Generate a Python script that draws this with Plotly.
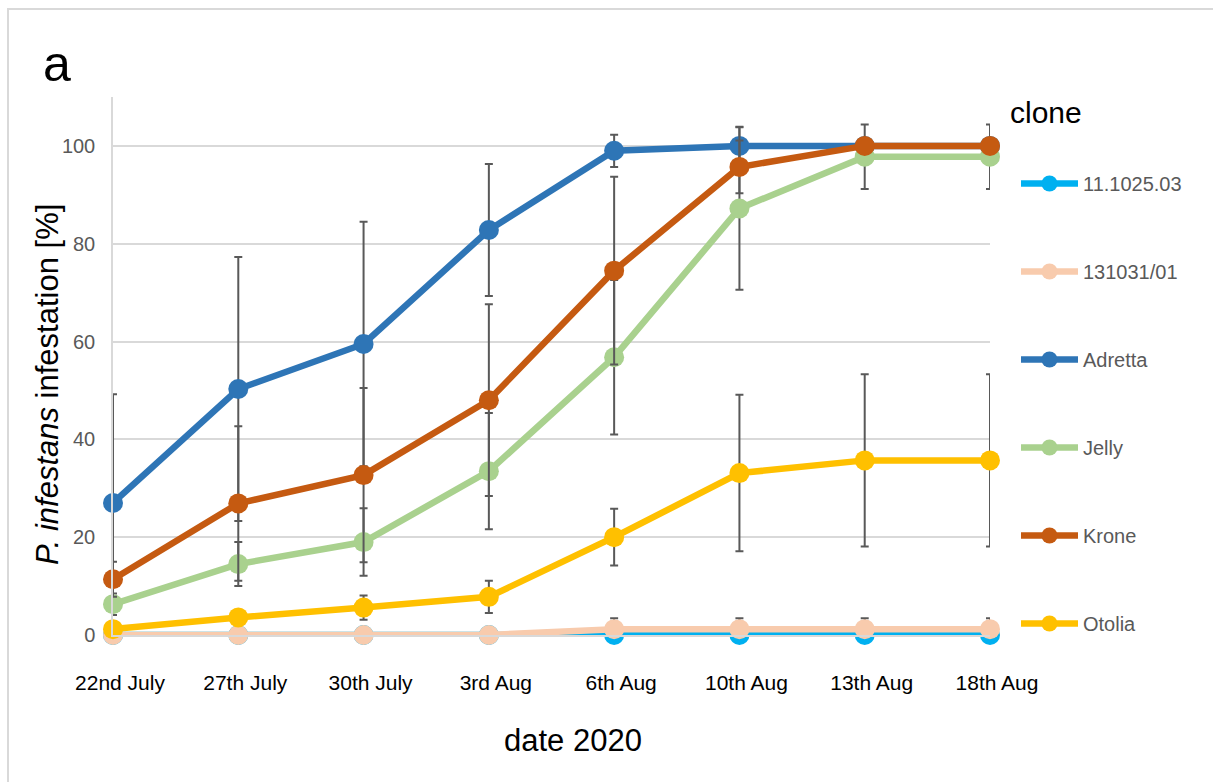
import plotly.graph_objects as go

# Sampling dates (x categories)
dates = ["22nd July", "27th July", "30th July", "3rd Aug",
         "6th Aug", "10th Aug", "13th Aug", "18th Aug"]

# Mean infestation per clone [%] and error (± SD)
clone_11102503 = [0, 0, 0, 0, 0, 0, 0, 0]
clone_13103101 = [0, 0, 0, 0, 1.2, 1.2, 1.2, 1.2]
clone_13103101_err = [0, 0, 0, 0, 2.2, 2.2, 2.2, 2.2]
adretta = [27.0, 50.3, 59.5, 82.8, 99.0, 100, 100, 100]
adretta_err = [22.2, 27.0, 25.0, 13.5, 3.3, 3.9, 0, 0]
jelly = [6.3, 14.5, 19.0, 33.5, 56.8, 87.2, 97.8, 97.8]
jelly_err = [2.2, 4.5, 6.9, 11.9, 15.8, 16.6, 6.6, 6.6]
krone = [11.4, 26.9, 32.7, 48.0, 74.5, 95.7, 100, 100]
krone_err = [3.6, 15.8, 17.8, 19.6, 19.2, 5.4, 0, 0]
otolia = [1.2, 3.6, 5.6, 7.8, 20.0, 33.1, 35.7, 35.7]
otolia_err = [0, 0, 2.5, 3.3, 5.8, 16.0, 17.6, 17.6]

series = [
    ("11.1025.03", clone_11102503, None, "#00B0F0"),
    ("131031/01", clone_13103101, clone_13103101_err, "#F8CBAD"),
    ("Adretta", adretta, adretta_err, "#2E75B6"),
    ("Jelly", jelly, jelly_err, "#A9D18E"),
    ("Krone", krone, krone_err, "#C55A11"),
    ("Otolia", otolia, otolia_err, "#FFC000"),
]

FONT = "Liberation Sans, Arial, sans-serif"
W, H = 1213, 782
L, R, T, B = 113, 223, 97, 147
PW, PH = W - L - R, H - T - B


def px(x):
    return (x - L) / PW


def py(y):
    return (H - B - y) / PH


fig = go.Figure()
for name, vals, err, color in series:
    tr = dict(
        x=dates, y=vals, name=name, legendgroup=name,
        mode="lines+markers", cliponaxis=False,
        line=dict(color=color, width=6.5),
        marker=dict(color=color, size=20, line=dict(width=0)),
    )
    if err is not None:
        tr["error_y"] = dict(type="data", array=err, visible=True,
                             color="#595959", thickness=2, width=4)
    fig.add_trace(go.Scatter(**tr))

fig.update_layout(
    width=W, height=H,
    margin=dict(l=L, r=R, t=T, b=B),
    paper_bgcolor="white", plot_bgcolor="white",
    font=dict(family=FONT, size=20, color="#595959"),
    showlegend=True,
    legend=dict(
        x=px(1016), y=py(164), xanchor="left", yanchor="top",
        font=dict(size=20, color="#595959"),
        tracegroupgap=59, itemwidth=57,
        bgcolor="rgba(0,0,0,0)",
    ),
    xaxis=dict(
        type="category", range=[0, len(dates) - 1],
        showgrid=False, zeroline=False,
        showline=True, linecolor="#D9D9D9", linewidth=1.5,
        ticks="outside", ticklen=28, tickcolor="rgba(0,0,0,0)",
        ticklabelshift=7,
        tickfont=dict(size=21, color="black"),
    ),
    yaxis=dict(
        range=[0, 110], dtick=20, tick0=0,
        showgrid=True, gridcolor="#D9D9D9", gridwidth=1.5,
        zeroline=False,
        showline=True, linecolor="#D9D9D9", linewidth=1.5,
        ticks="outside", ticklen=12, tickcolor="rgba(0,0,0,0)",
        tickfont=dict(size=20, color="#595959"),
    ),
    annotations=[
        dict(text="a", x=px(57), y=py(64), xref="paper", yref="paper",
             xanchor="center", yanchor="middle",
             showarrow=False, font=dict(size=50, color="black")),
        dict(text="<i>P. infestans</i> infestation [%]", x=px(47), y=py(385),
             xref="paper", yref="paper", textangle=-90, showarrow=False,
             xanchor="center", yanchor="middle",
             font=dict(size=31, color="black")),
        dict(text="date 2020", x=px(573), y=py(740), xref="paper", yref="paper",
             xanchor="center", yanchor="middle",
             showarrow=False, font=dict(size=31, color="black")),
        dict(text="clone", x=px(1008), y=py(112), xref="paper", yref="paper",
             xanchor="left", yanchor="middle",
             showarrow=False, font=dict(size=30, color="black")),
    ],
    shapes=[
        dict(type="rect", xref="paper", yref="paper",
             x0=px(8), x1=px(1230), y0=py(800), y1=py(9),
             line=dict(color="#D9D9D9", width=2), fillcolor="rgba(0,0,0,0)",
             layer="below"),
    ],
)

fig.write_html("out.html")
